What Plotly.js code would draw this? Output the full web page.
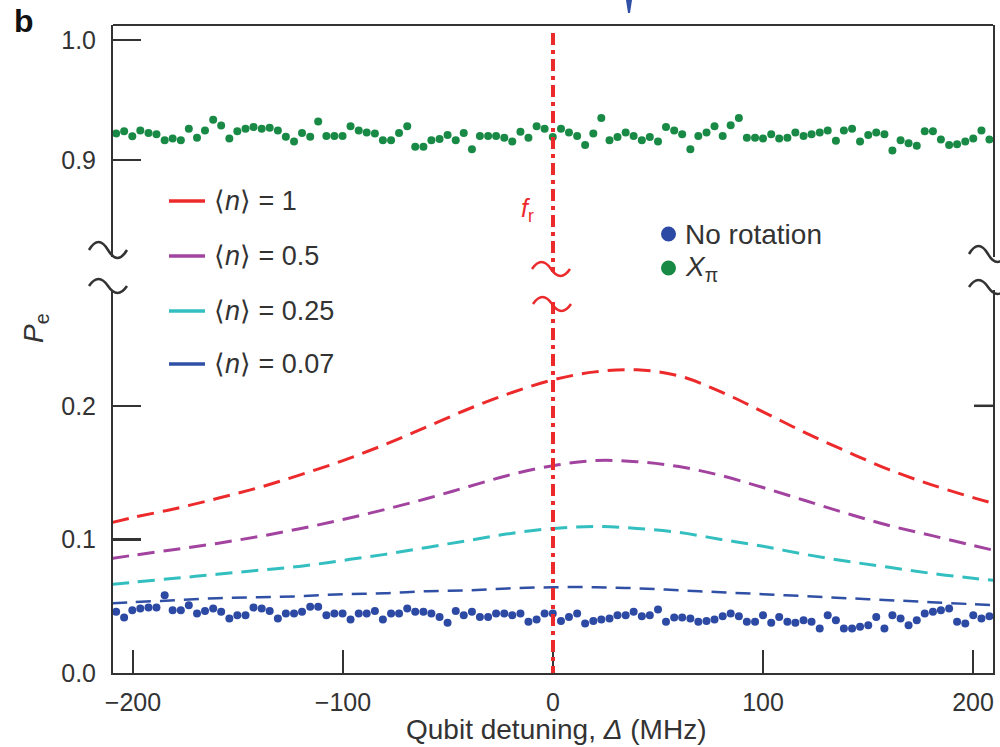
<!DOCTYPE html>
<html>
<head>
<meta charset="utf-8">
<script src="https://cdn.plot.ly/plotly-3.0.1.min.js"></script>
<style>html,body{margin:0;padding:0;background:#fff;}#chart{width:1000px;height:747px;}</style>
</head>
<body>
<div id="chart"></div>
<script>
// ---------------- data ----------------
const detuning = [-208.0,-204.2,-200.3,-196.5,-192.6,-188.8,-184.9,-181.1,-177.2,-173.4,
 -169.5,-165.7,-161.8,-158.0,-154.1,-150.3,-146.4,-142.6,-138.7,-134.9,
 -131.0,-127.2,-123.3,-119.5,-115.6,-111.8,-107.9,-104.1,-100.2,-96.4,
 -92.5,-88.7,-84.8,-81.0,-77.1,-73.3,-69.4,-65.6,-61.7,-57.9,
 -54.0,-50.2,-46.3,-42.5,-38.6,-34.8,-30.9,-27.1,-23.2,-19.4,
 -15.5,-11.7,-7.8,-4.0,-0.1,3.8,7.6,11.5,15.3,19.2,
 23.0,26.9,30.7,34.6,38.4,42.3,46.1,50.0,53.8,57.7,
 61.5,65.4,69.2,73.1,76.9,80.8,84.6,88.5,92.3,96.2,
 100.0,103.9,107.7,111.6,115.4,119.3,123.1,127.0,130.8,134.7,
 138.5,142.4,146.2,150.1,153.9,157.8,161.6,165.5,169.3,173.2,
 177.0,180.9,184.7,188.6,192.4,196.3,200.1,204.0,207.8];

const pXpi = [0.9221,0.9239,0.9197,0.9245,0.9224,0.9215,0.9164,0.9179,0.9164,0.9260,
 0.9185,0.9245,0.9335,0.9287,0.9179,0.9239,0.9260,0.9275,0.9260,0.9269,
 0.9245,0.9194,0.9155,0.9224,0.9194,0.9320,0.9200,0.9200,0.9200,0.9281,
 0.9245,0.9230,0.9221,0.9164,0.9164,0.9224,0.9281,0.9110,0.9110,0.9164,
 0.9176,0.9209,0.9164,0.9224,0.9089,0.9200,0.9200,0.9200,0.9185,0.9155,
 0.9236,0.9185,0.9281,0.9260,0.9191,0.9260,0.9230,0.9200,0.9125,0.9221,
 0.9350,0.9164,0.9191,0.9230,0.9200,0.9164,0.9191,0.9155,0.9275,0.9245,
 0.9215,0.9089,0.9200,0.9230,0.9281,0.9200,0.9290,0.9350,0.9185,0.9185,
 0.9179,0.9215,0.9179,0.9185,0.9230,0.9200,0.9215,0.9230,0.9245,0.9161,
 0.9245,0.9260,0.9155,0.9209,0.9230,0.9215,0.9080,0.9164,0.9140,0.9119,
 0.9239,0.9239,0.9170,0.9125,0.9131,0.9155,0.9179,0.9245,0.9170];

const pNoRotation = [0.0458,0.0415,0.0470,0.0483,0.0490,0.0490,0.0582,0.0470,0.0470,0.0507,
 0.0445,0.0465,0.0483,0.0458,0.0408,0.0433,0.0433,0.0490,0.0483,0.0465,
 0.0408,0.0445,0.0445,0.0458,0.0495,0.0495,0.0433,0.0445,0.0445,0.0400,
 0.0445,0.0445,0.0465,0.0400,0.0445,0.0445,0.0483,0.0458,0.0458,0.0445,
 0.0420,0.0376,0.0465,0.0433,0.0458,0.0420,0.0420,0.0445,0.0445,0.0433,
 0.0445,0.0383,0.0400,0.0445,
 0.0445,0.0390,0.0420,0.0445,0.0371,0.0390,0.0400,0.0408,0.0433,0.0433,
 0.0458,0.0425,0.0433,0.0475,0.0383,0.0415,0.0415,0.0408,0.0383,0.0390,
 0.0400,0.0425,0.0445,0.0425,0.0383,0.0383,0.0433,0.0376,0.0420,0.0383,
 0.0376,0.0395,0.0383,0.0333,0.0433,0.0395,0.0333,0.0333,0.0346,0.0358,
 0.0420,0.0333,0.0433,0.0408,0.0358,0.0395,0.0445,0.0458,0.0470,0.0483,
 0.0383,0.0371,0.0433,0.0408,0.0425];

const curveDetuning = [-210,-200,-180,-160,-140,-120,-100,-80,-60,-40,-20,0,20,40,60,80,100,120,140,160,180,200,210];
const pN1   = [0.1127,0.1164,0.1230,0.1306,0.1388,0.1485,0.1590,0.1710,0.1843,0.1978,0.2097,0.2194,0.2254,0.2269,0.2224,0.2104,0.1955,0.1799,0.1657,0.1522,0.1410,0.1313,0.1269];
const pN05  = [0.0858,0.0881,0.0925,0.0970,0.1022,0.1082,0.1149,0.1224,0.1306,0.1396,0.1485,0.1552,0.1590,0.1582,0.1545,0.1478,0.1388,0.1291,0.1194,0.1104,0.1030,0.0955,0.0918];
const pN025 = [0.0664,0.0679,0.0709,0.0739,0.0769,0.0799,0.0843,0.0888,0.0940,0.0993,0.1045,0.1082,0.1097,0.1082,0.1052,0.1000,0.0948,0.0888,0.0836,0.0791,0.0746,0.0709,0.0694];
const pN007 = [0.0522,0.0530,0.0545,0.0560,0.0567,0.0575,0.0590,0.0597,0.0612,0.0619,0.0634,0.0642,0.0642,0.0634,0.0619,0.0604,0.0590,0.0575,0.0560,0.0545,0.0530,0.0515,0.0507];

const curveLabels = ['⟨<i>n</i>⟩ = 1','⟨<i>n</i>⟩ = 0.5','⟨<i>n</i>⟩ = 0.25','⟨<i>n</i>⟩ = 0.07'];
const dotLabels = ['No rotation','<i>X</i><sub>π</sub>'];
const xTickVals = [-200,-100,0,100,200];
const xTickText = ['−200','−100','0','100','200'];
const yLowTickVals = [0,0.1,0.2];
const yLowTickText = ['0.0','0.1','0.2'];
const yHighTickVals = [0.9,1.0];
const yHighTickText = ['0.9','1.0'];

// ---------------- style ----------------
const C_RED='#ec2a2c', C_PUR='#a2449f', C_CYA='#33bfc0', C_BLU='#3050a6', C_DOT='#2c49a4', C_GRN='#188a45', C_AX='#333333';
const FONT='Liberation Sans, Arial, Helvetica, sans-serif';

const L=113,R=993,T=25,B=673;
function px(x){return (x-L)/(R-L);}
function py(y){return (B-y)/(B-T);}
function tilde(cx,cy,w,a){
  const x0=cx-w/2;
  const pts=[[x0,cy],[x0+w/6,cy-4*a/3],[x0+w/3,cy-4*a/3],[cx,cy],[cx+w/6,cy+4*a/3],[cx+w/3,cy+4*a/3],[cx+w/2,cy]];
  const p=pts.map(q=>px(q[0]).toFixed(5)+','+py(q[1]).toFixed(5));
  return 'M'+p[0]+' C'+p[1]+' '+p[2]+' '+p[3]+' C'+p[4]+' '+p[5]+' '+p[6];
}

const curveColors=[C_RED,C_PUR,C_CYA,C_BLU];
const curveDash=['17px,9px','17px,9px','17px,9px','15px,9px'];
const curveSeries=[pN1,pN05,pN025,pN007];

const traces=[];
curveSeries.forEach((s,i)=>{
  traces.push({x:curveDetuning,y:s,xaxis:'x',yaxis:'y',type:'scatter',mode:'lines',
    line:{color:curveColors[i],width:i===3?2.5:3,dash:curveDash[i],shape:'spline'},showlegend:false,hoverinfo:'skip'});
});
traces.push({x:detuning,y:pNoRotation,xaxis:'x',yaxis:'y',type:'scatter',mode:'markers',
  marker:{color:C_DOT,size:8},showlegend:false,hoverinfo:'skip'});
traces.push({x:detuning,y:pXpi,xaxis:'x',yaxis:'y2',type:'scatter',mode:'markers',
  marker:{color:C_GRN,size:8},showlegend:false,hoverinfo:'skip'});

const shapes=[];
// top frame line
shapes.push({type:'line',xref:'paper',yref:'paper',x0:0,x1:1,y0:1,y1:1,line:{color:C_AX,width:2}});
// right tick at 0.2
shapes.push({type:'line',xref:'paper',yref:'y',x0:px(R-19),x1:1,y0:0.2,y1:0.2,line:{color:C_AX,width:2.5}});
// axis break tildes
[[108,250,38,8],[108,286,38,7],[988,254,38,8],[988,287,38,7]].forEach(t=>{
  shapes.push({type:'path',xref:'paper',yref:'paper',path:tilde(t[0],t[1],t[2],t[3]),line:{color:C_AX,width:2.5}});
});
// resonator frequency line
shapes.push({type:'line',xref:'x',yref:'paper',x0:0,x1:0,y0:py(33),y1:py(272),line:{color:C_RED,width:4,dash:'12px,5px,4px,5px'}});
shapes.push({type:'line',xref:'x',yref:'paper',x0:0,x1:0,y0:py(302),y1:0,line:{color:C_RED,width:4,dash:'12px,5px,4px,5px'}});
[[551,269,38,7],[552,304,38,7]].forEach(t=>{
  shapes.push({type:'path',xref:'paper',yref:'paper',path:tilde(t[0],t[1],t[2],t[3]),line:{color:C_RED,width:2.5}});
});
// legend samples
const legRows=[201,256,311,364];
legRows.forEach((y,i)=>{
  shapes.push({type:'line',xref:'paper',yref:'paper',x0:px(169),x1:px(205),y0:py(y),y1:py(y),line:{color:curveColors[i],width:3.5}});
});
const dotRows=[234,268];
[C_DOT,C_GRN].forEach((c,i)=>{
  shapes.push({type:'circle',xref:'paper',yref:'paper',x0:px(661),x1:px(676),y0:py(dotRows[i]-7.5),y1:py(dotRows[i]+7.5),fillcolor:c,line:{width:0}});
});
// cut-off mark from the panel above
shapes.push({type:'path',xref:'paper',yref:'paper',
  path:'M'+px(626)+','+py(0)+' L'+px(632)+','+py(0)+' L'+px(630)+','+py(13)+' L'+px(628)+','+py(13)+' Z',
  fillcolor:C_BLU,line:{width:0}});

const annotations=[];
curveLabels.forEach((t,i)=>{
  annotations.push({xref:'paper',yref:'paper',x:px(212),y:py(legRows[i]),xanchor:'left',yanchor:'middle',text:t,showarrow:false,
    font:{family:FONT,size:27,color:C_AX}});
});
dotLabels.forEach((t,i)=>{
  annotations.push({xref:'paper',yref:'paper',x:px(683),y:py(dotRows[i]),xanchor:'left',yanchor:'middle',text:t,showarrow:false,
    font:{family:FONT,size:28,color:C_AX}});
});
annotations.push({xref:'paper',yref:'paper',x:px(527),y:py(210),xanchor:'center',yanchor:'middle',text:'<i>f</i><sub>r</sub>',showarrow:false,
  font:{family:FONT,size:25,color:C_RED}});
annotations.push({xref:'paper',yref:'paper',x:px(556),y:py(729),xanchor:'center',yanchor:'middle',text:'Qubit detuning, <i>Δ</i> (MHz)',showarrow:false,
  font:{family:FONT,size:28,color:C_AX}});
annotations.push({xref:'paper',yref:'paper',x:px(35),y:py(328),xanchor:'center',yanchor:'middle',textangle:-90,text:'<i>P</i><sub>e</sub>',showarrow:false,
  font:{family:FONT,size:28,color:C_AX}});
annotations.push({xref:'paper',yref:'paper',x:px(12),y:py(21),xanchor:'left',yanchor:'middle',text:'<b>b</b>',showarrow:false,
  font:{family:FONT,size:32,color:'#111'}});

const axisCommon={showgrid:false,zeroline:false,showline:true,linecolor:C_AX,linewidth:2,
  ticks:'inside',tickcolor:C_AX,tickwidth:2.5,tickfont:{family:FONT,size:25,color:C_AX},tickmode:'array'};

const layout={
  width:1000,height:747,
  margin:{l:L,r:1000-R,t:T,b:747-B,pad:0},
  paper_bgcolor:'#fff',plot_bgcolor:'rgba(0,0,0,0)',
  showlegend:false,
  xaxis:Object.assign({},axisCommon,{range:[-209.5,209.5],anchor:'y',tickvals:xTickVals,ticktext:xTickText,ticklen:23,ticklabelstandoff:6}),
  yaxis:Object.assign({},axisCommon,{domain:[0,(B-290)/(B-T)],range:[0,(B-290)/1336],mirror:true,tickvals:yLowTickVals,ticktext:yLowTickText,ticklen:28,ticklabelstandoff:10,anchor:'x'}),
  yaxis2:Object.assign({},axisCommon,{domain:[(B-257)/(B-T),1],range:[0.9-(257-160)/1200,1.0+15/1200],mirror:true,tickvals:yHighTickVals,ticktext:yHighTickText,ticklen:28,ticklabelstandoff:10,anchor:'x'}),
  shapes:shapes,
  annotations:annotations
};

Plotly.newPlot('chart',traces,layout,{displayModeBar:false,staticPlot:true});
</script>
</body>
</html>
